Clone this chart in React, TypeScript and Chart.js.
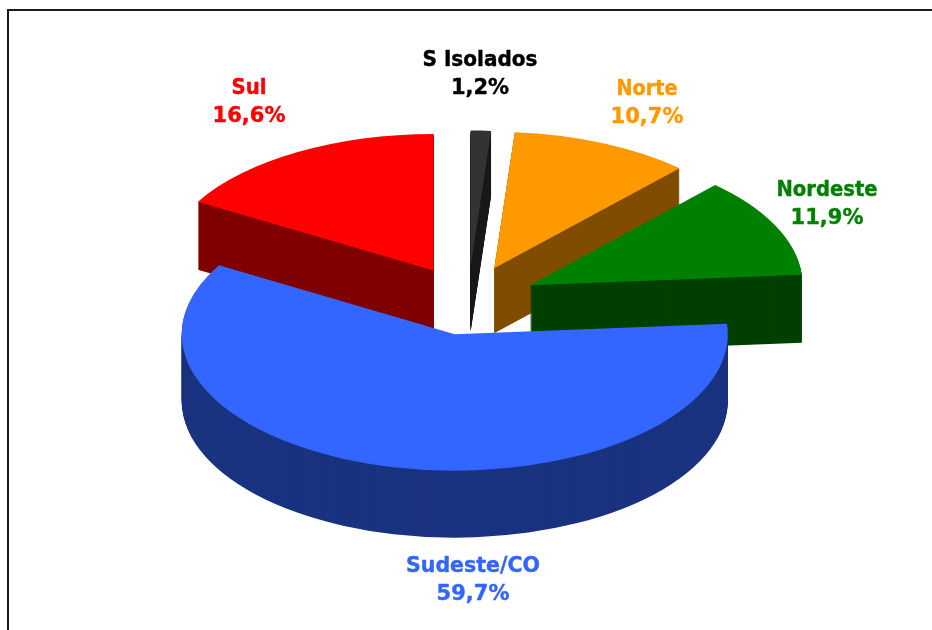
import React, { useEffect, useRef } from "react";
import { Chart, registerables } from "chart.js";

Chart.register(...registerables);

const categories = ["S Isolados", "Norte", "Nordeste", "Sudeste/CO", "Sul"];
const shares = [1.2, 10.7, 11.9, 59.7, 16.6];
const shareLabels = ["1,2%", "10,7%", "11,9%", "59,7%", "16,6%"];
const topColors = ["#333333", "#FF9900", "#008000", "#3366FF", "#FF0000"];
const sideColors = ["#1A1A1A", "#804D00", "#004000", "#1A3380", "#800000"];
const labelColors = ["#000000", "#FF9900", "#008000", "#3366FF", "#FF0000"];

// Drawing layout
const RADIUS = 273;
const TILT = 0.5;
const EXPLODE = 68;
const depths = [65, 65, 68, 67, 68];
const nudges = [
  [0, 0],
  [-1, -1.5],
  [0.5, -1],
  [2, 0],
  [-0.5, -1],
];
const paintOrder = [0, 4, 1, 2, 3];
const labelAnchors = [
  [480, 61],
  [647, 90],
  [827, 191],
  [473, 567],
  [249, 89],
];
const nameWidths = [115, 61, 101, 134, 35];

const pie3d = {
  id: "pie3d",
  beforeDraw(chart: any) {
    const { ctx } = chart;
    ctx.save();
    ctx.fillStyle = "#FFFFFF";
    ctx.fillRect(0, 0, chart.width, chart.height);
    ctx.strokeStyle = "#1A1A1A";
    ctx.lineWidth = 2;
    ctx.beginPath();
    ctx.moveTo(8, chart.height);
    ctx.lineTo(8, 10);
    ctx.lineTo(chart.width, 10);
    ctx.stroke();
    ctx.restore();
  },
  beforeDatasetsDraw(chart: any) {
    const { ctx } = chart;
    const arcs = chart.getDatasetMeta(0).data;
    const paint = (el: any, i: number, color: string, dy: number) => {
      const mid = (el.startAngle + el.endAngle) / 2;
      const saved = el.options;
      el.options = { ...saved, backgroundColor: color, borderColor: color, borderWidth: 0 };
      ctx.save();
      ctx.translate(nudges[i][0], dy + nudges[i][1]);
      ctx.translate(el.x, el.y);
      ctx.scale(1, TILT);
      ctx.translate(-el.x, -el.y);
      ctx.translate(Math.cos(mid) * EXPLODE, Math.sin(mid) * EXPLODE);
      el.draw(ctx);
      ctx.restore();
      el.options = saved;
    };
    for (const i of paintOrder) {
      for (let d = depths[i]; d > 0; d--) paint(arcs[i], i, sideColors[i], d);
      paint(arcs[i], i, topColors[i], 0);
    }
    return false;
  },
  afterDraw(chart: any) {
    const { ctx } = chart;
    ctx.save();
    ctx.textAlign = "center";
    ctx.textBaseline = "middle";
    ctx.lineWidth = 0.4;
    ctx.lineJoin = "round";
    categories.forEach((name, i) => {
      const [x, y] = labelAnchors[i];
      ctx.fillStyle = labelColors[i];
      ctx.strokeStyle = labelColors[i];
      ctx.font = 'bold 21px "DejaVu Sans"';
      ctx.fillText(name, x, y, nameWidths[i]);
      ctx.strokeText(name, x, y, nameWidths[i]);
      ctx.fillText(shareLabels[i], x, y + 28);
      ctx.strokeText(shareLabels[i], x, y + 28);
    });
    ctx.restore();
  },
};

export default function App() {
  const ref = useRef<HTMLCanvasElement>(null);
  useEffect(() => {
    const chart = new Chart(ref.current as HTMLCanvasElement, {
      type: "pie",
      data: {
        labels: categories,
        datasets: [{ data: shares, backgroundColor: topColors, borderWidth: 0 }],
      },
      options: {
        animation: false,
        responsive: false,
        radius: RADIUS,
        layout: { padding: { left: 4, bottom: 28 } },
        plugins: { legend: { display: false }, tooltip: { enabled: false } },
      } as any,
      plugins: [pie3d],
    });
    return () => chart.destroy();
  }, []);
  return (
    <div style={{ position: "absolute", left: 0, top: 0, width: 932, height: 630, overflow: "hidden" }}>
      <canvas ref={ref} width={932} height={630} style={{ display: "block" }} />
    </div>
  );
}
